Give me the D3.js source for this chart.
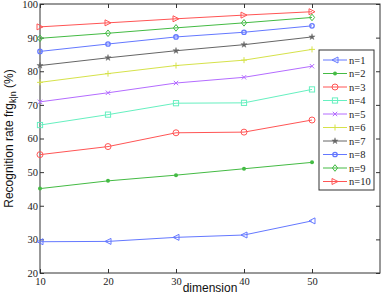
<!DOCTYPE html>
<html><head><meta charset="utf-8">
<script src="https://cdn.jsdelivr.net/npm/d3@7"></script>
<style>body{margin:0;background:#fff}svg{display:block}</style>
</head><body>
<script>
const dims = [10, 20, 30, 40, 50];
const seriesNames = ["n=1","n=2","n=3","n=4","n=5","n=6","n=7","n=8","n=9","n=10"];
const n1 = [29.3, 29.4, 30.6, 31.3, 35.5];
const n2 = [45.1, 47.4, 49.1, 51.0, 52.9];
const n3 = [55.2, 57.6, 61.7, 61.9, 65.5];
const n4 = [64.0, 67.1, 70.5, 70.6, 74.6];
const n5 = [70.9, 73.6, 76.5, 78.2, 81.5];
const n6 = [76.7, 79.3, 81.7, 83.3, 86.5];
const n7 = [81.7, 84.0, 86.1, 87.9, 90.2];
const n8 = [85.9, 88.1, 90.2, 91.6, 93.5];
const n9 = [89.8, 91.3, 92.9, 94.4, 96.0];
const n10 = [93.2, 94.4, 95.6, 96.7, 97.7];
const xTicks = [10, 20, 30, 40, 50];
const yTicks = [20, 30, 40, 50, 60, 70, 80, 90, 100];

const allSeries = [n1,n2,n3,n4,n5,n6,n7,n8,n9,n10];
const colors = ["#6478ff","#44bb44","#ff5555","#66f0c0","#b46cff","#d6e24a","#666666","#6478ff","#44bb44","#ff5555"];
const markers = ["triL","dot","circle","square","x","plus","star","dotc","diamond","triR"];

const W = 382, H = 298;
const L = 40, R = 380, T = 4, B = 273;
const svg = d3.select("body").append("svg").attr("width", W).attr("height", H);
const x = d3.scaleLinear().domain([10, 60]).range([L, R]);
const y = d3.scaleLinear().domain([20, 100]).range([B, T]);

const serif = "'Liberation Serif','Times New Roman','DejaVu Serif',serif";
const sans = "'Liberation Sans',Arial,sans-serif";

// axes
const gx = svg.append("g").attr("transform", `translate(0,${B})`)
  .call(d3.axisBottom(x).tickValues(xTicks).tickSizeInner(-4).tickSizeOuter(0).tickPadding(5));
const gxt = svg.append("g").attr("transform", `translate(0,${T})`)
  .call(d3.axisTop(x).tickValues(xTicks).tickSizeInner(-4).tickSizeOuter(0).tickFormat(""));
const gy = svg.append("g").attr("transform", `translate(${L},0)`)
  .call(d3.axisLeft(y).tickValues(yTicks).tickSizeInner(-4).tickSizeOuter(0).tickPadding(2));
const gyr = svg.append("g").attr("transform", `translate(${R},0)`)
  .call(d3.axisRight(y).tickValues(yTicks).tickSizeInner(-4).tickSizeOuter(0).tickFormat(""));
[gx,gxt,gy,gyr].forEach(g => {
  g.attr("font-family", serif);
  g.selectAll("path.domain").remove();
  g.selectAll("line").attr("stroke", "#333");
  g.selectAll("text").style("font-family", serif).attr("font-size", 10.5).attr("fill", "#222");
});
svg.append("rect").attr("x", L).attr("y", T).attr("width", R - L).attr("height", B - T)
  .attr("fill", "none").attr("stroke", "#333").attr("stroke-width", 1);

function drawMarker(g, type, cx, cy, col) {
  const s = 3;
  if (type === "triL") g.append("path").attr("d", `M${cx-s},${cy}L${cx+s},${cy-s}L${cx+s},${cy+s}Z`).attr("fill","none").attr("stroke",col);
  else if (type === "triR") g.append("path").attr("d", `M${cx+s},${cy}L${cx-s},${cy-s}L${cx-s},${cy+s}Z`).attr("fill","none").attr("stroke",col);
  else if (type === "dot") g.append("circle").attr("cx",cx).attr("cy",cy).attr("r",2).attr("fill",col);
  else if (type === "dotc") g.append("circle").attr("cx",cx).attr("cy",cy).attr("r",2.2).attr("fill","none").attr("stroke",col).attr("stroke-width",1.3);
  else if (type === "circle") g.append("circle").attr("cx",cx).attr("cy",cy).attr("r",3).attr("fill","none").attr("stroke",col);
  else if (type === "square") g.append("rect").attr("x",cx-2.6).attr("y",cy-2.6).attr("width",5.2).attr("height",5.2).attr("fill","none").attr("stroke",col);
  else if (type === "x") g.append("path").attr("d", `M${cx-2.2},${cy-2.2}L${cx+2.2},${cy+2.2}M${cx-2.2},${cy+2.2}L${cx+2.2},${cy-2.2}`).attr("stroke",col);
  else if (type === "plus") g.append("path").attr("d", `M${cx-3},${cy}L${cx+3},${cy}M${cx},${cy-3}L${cx},${cy+3}`).attr("stroke",col);
  else if (type === "star") g.append("path").attr("d", d3.symbol(d3.symbolStar, 12)()).attr("transform",`translate(${cx},${cy})`).attr("fill",col).attr("stroke",col).attr("stroke-width",0.4);
  else if (type === "diamond") g.append("path").attr("d", `M${cx},${cy-3.3}L${cx+2.6},${cy}L${cx},${cy+3.3}L${cx-2.6},${cy}Z`).attr("fill","none").attr("stroke",col);
}

const line = d3.line().x((d,i) => x(dims[i])).y(d => y(d));
allSeries.forEach((s, k) => {
  const g = svg.append("g");
  g.append("path").attr("d", line(s)).attr("fill","none").attr("stroke",colors[k]).attr("stroke-width",1);
  s.forEach((v,i) => drawMarker(g, markers[k], x(dims[i]), y(v), colors[k]));
});

// legend
const lg = svg.append("g");
lg.append("rect").attr("x", 319).attr("y", 50).attr("width", 55).attr("height", 140)
  .attr("fill", "#fff").attr("stroke", "#333").attr("stroke-width", 1);
seriesNames.forEach((nm, k) => {
  const yy = 60 + k * 13.5;
  lg.append("line").attr("x1", 323).attr("x2", 347).attr("y1", yy).attr("y2", yy).attr("stroke", colors[k]);
  drawMarker(lg, markers[k], 335, yy, colors[k]);
  lg.append("text").attr("x", 349).attr("y", yy + 3.8).text(nm)
    .style("font-family", serif).attr("font-size", 10.5).attr("fill", "#222");
});

// axis labels
svg.append("text").attr("x", 210).attr("y", 292).attr("text-anchor", "middle")
  .attr("font-family", sans).attr("font-size", 12).attr("fill", "#111").text("dimension");
const yl = svg.append("text").attr("transform", `translate(13,${(T+B)/2}) rotate(-90)`)
  .attr("text-anchor", "middle").attr("font-family", sans).attr("font-size", 12).attr("fill", "#111");
yl.append("tspan").text("Recognition rate frg");
yl.append("tspan").attr("dy", 3).attr("font-size", 9).text("k|n");
yl.append("tspan").attr("dy", -3).text(" (%)");
</script>
</body></html>
